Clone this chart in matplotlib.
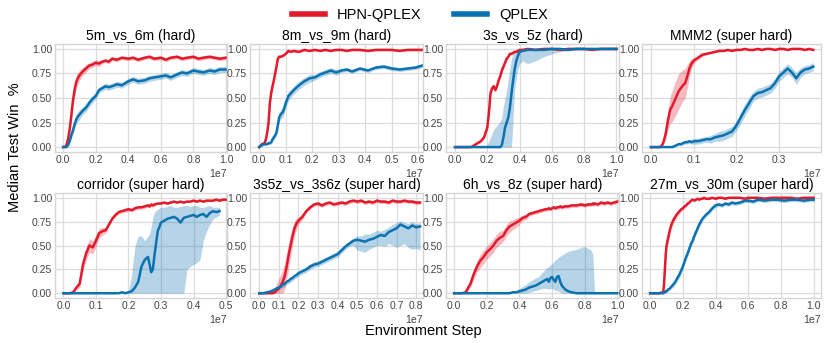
import numpy as np
import matplotlib.pyplot as plt
from matplotlib.lines import Line2D
from matplotlib.ticker import MultipleLocator, ScalarFormatter, FormatStrFormatter

plt.rcParams['font.family'] = ['Liberation Sans', 'DejaVu Sans']

HPN_COLOR = '#e31a2c'
QPLEX_COLOR = '#0b72b0'

# --------------------------------------------------
# data (x in units of 1e7 environment steps, values = median test win rate)
# --------------------------------------------------

# 5m_vs_6m
m5v6_x = [0, .01, .02, .03, .04, .05, .06, .07, .08, .09, .10, .12, .14, .16, .18, .20, .22, .24, .26, .28, .30,
          .33, .36, .40, .43, .46, .50, .53, .56, .60, .63, .66, .70, .73, .76, .80, .83, .86, .90, .93, .96, 1.0]
m5v6_hpn = [0, 0, .02, .08, .18, .32, .47, .58, .66, .70, .73, .77, .80, .83, .84, .86, .85, .87, .88, .87, .90,
            .89, .91, .90, .91, .89, .91, .92, .90, .91, .89, .91, .92, .90, .91, .92, .90, .91, .92, .91, .90, .91]
m5v6_hpn_err = [0, 0, .01, .03, .05, .06, .07, .07, .07, .06, .05, .04, .04, .03, .03, .03, .03, .02, .02, .02, .02,
                .02, .02, .02, .02, .02, .02, .02, .02, .02, .02, .02, .02, .02, .02, .02, .02, .02, .02, .02, .02, .02]
m5v6_qplex = [0, 0, 0, .02, .06, .12, .17, .23, .28, .31, .33, .37, .40, .45, .49, .52, .58, .60, .62, .61, .62,
              .64, .63, .67, .69, .67, .68, .70, .71, .72, .73, .71, .74, .76, .75, .78, .77, .76, .78, .77, .79, .79]
m5v6_qplex_err = [0, 0, 0, .01, .02, .03, .04, .05, .05, .05, .05, .04, .04, .04, .04, .03, .03, .03, .03, .03, .03,
                  .03, .03, .03, .03, .03, .03, .03, .03, .03, .03, .03, .03, .03, .03, .03, .03, .03, .03, .03, .03, .03]

# 8m_vs_9m
m8v9_x = [0, .01, .02, .025, .03, .035, .04, .045, .05, .055, .06, .065, .07, .075, .08, .09, .10, .11, .12, .13,
          .15, .17, .19, .21, .23, .25, .27, .29, .31, .33, .35, .38, .41, .44, .47, .50, .53, .56, .59, .615]
m8v9_hpn = [0, .03, .04, .08, .15, .25, .45, .55, .62, .68, .75, .82, .90, .92, .92, .93, .95, .98, .97, .98,
            .97, .99, .98, .99, .98, .99, .98, .99, .99, .98, .99, .99, .98, .99, .99, .99, .98, .99, .99, .99]
m8v9_hpn_err = [0, .01, .01, .02, .03, .03, .03, .03, .03, .03, .03, .03, .02, .02, .01, .01, .01, .01, .01, .01,
                .01, .01, .01, .01, .01, .01, .01, .01, .01, .01, .01, .01, .01, .01, .01, .01, .01, .01, .01, .01]
m8v9_qplex = [0, .02, .03, .03, .03, .04, .04, .05, .08, .10, .12, .15, .22, .30, .33, .36, .45, .52, .55, .58,
              .63, .67, .70, .71, .74, .76, .78, .76, .78, .79, .77, .80, .78, .81, .82, .80, .79, .80, .81, .83]
m8v9_qplex_err = [0, .01, .01, .01, .01, .01, .01, .02, .02, .03, .03, .03, .04, .04, .05, .05, .05, .05, .04, .04,
                  .04, .04, .04, .03, .03, .03, .03, .03, .02, .02, .02, .02, .02, .02, .02, .02, .02, .02, .02, .02]

# 3s_vs_5z
s3v5_x = [0, .05, .10, .12, .14, .16, .18, .20, .21, .22, .23, .24, .25, .26, .27, .28, .29, .30, .31, .32, .33,
          .34, .35, .36, .37, .38, .39, .40, .42, .45, .50, .55, .60, .65, .70, .75, .80, .85, .90, .95, 1.0]
s3v5_hpn = [0, 0, 0, .02, .04, .06, .10, .20, .35, .55, .60, .62, .58, .62, .68, .72, .78, .82, .86, .90, .92,
            .95, .95, .96, .97, .97, .98, .99, .99, 1.0, .99, 1.0, 1.0, .99, 1.0, 1.0, 1.0, .99, 1.0, 1.0, 1.0]
s3v5_hpn_err = [0, 0, 0, .01, .01, .01, .02, .02, .02, .02, .02, .02, .02, .02, .02, .02, .02, .02, .02, .02, .02,
                .01, .01, .01, .01, .01, .01, .01, .01, .01, .01, .01, .01, .01, .01, .01, .01, .01, .01, .01, .01]
s3v5_qplex = [0, 0, 0, 0, 0, 0, 0, 0, 0, 0, 0, 0, 0, 0, 0, 0, .02, .10, .20, .25, .30,
              .40, .55, .68, .80, .88, .93, .97, .98, .99, .99, .99, 1.0, 1.0, .99, 1.0, 1.0, 1.0, 1.0, 1.0, 1.0]
s3v5_qplex_lo = [0, 0, 0, 0, 0, 0, 0, 0, 0, 0, 0, 0, 0, 0, 0, 0, 0, 0, 0, 0, 0,
                 0, 0, .30, .60, .70, .80, .85, .88, .85, .88, .92, .95, .97, .98, .99, .99, .99, .99, .99, .99]
s3v5_qplex_hi = [0, 0, 0, 0, 0, 0, 0, .03, .06, .10, .14, .18, .20, .22, .24, .26, .30, .42, .50, .58, .70,
                 .80, .90, .95, .98, .99, 1.0, 1.0, 1.0, 1.0, 1.0, 1.0, 1.0, 1.0, 1.0, 1.0, 1.0, 1.0, 1.0, 1.0, 1.0]

# MMM2
mmm2_x = [0, .01, .02, .025, .03, .035, .04, .045, .05, .055, .06, .065, .07, .075, .08, .085, .09, .095, .10,
          .11, .12, .13, .14, .15, .16, .17, .18, .19, .20, .21, .22, .23, .24, .25, .26, .27, .28, .29, .30,
          .31, .32, .33, .34, .35, .36, .37, .38]
mmm2_hpn = [0, 0, 0, .01, .06, .15, .28, .38, .42, .47, .52, .57, .60, .63, .65, .72, .80, .85, .88,
            .91, .94, .95, .96, .97, .98, .98, .99, .98, .99, .99, 1.0, .99, .99, 1.0, .99, 1.0, 1.0, .99, 1.0,
            1.0, .99, 1.0, 1.0, 1.0, .99, 1.0, .99]
mmm2_hpn_err = [0, 0, 0, .01, .03, .06, .10, .14, .16, .17, .18, .18, .17, .16, .15, .12, .08, .05, .03,
                .02, .02, .01, .01, .01, .01, .01, .01, .01, .01, .01, .01, .01, .01, .01, .01, .01, .01, .01, .01,
                .01, .01, .01, .01, .01, .01, .01, .01]
mmm2_qplex = [0, 0, 0, 0, 0, 0, 0, 0, 0, .01, .02, .03, .03, .04, .05, .05, .06, .05, .06,
              .06, .07, .08, .08, .10, .11, .12, .14, .16, .22, .30, .38, .45, .52, .55, .56, .58, .60, .65, .72,
              .76, .80, .76, .70, .76, .79, .80, .82]
mmm2_qplex_err = [0, 0, 0, 0, 0, 0, 0, 0, 0, .01, .01, .01, .02, .02, .02, .02, .02, .02, .03,
                  .03, .03, .03, .04, .04, .05, .05, .05, .05, .05, .06, .06, .06, .05, .05, .05, .05, .05, .05, .05,
                  .05, .05, .05, .06, .05, .04, .04, .04]

# corridor
corr_x = [0, .01, .02, .03, .04, .05, .06, .07, .08, .09, .10, .11, .12, .13, .14, .15, .16, .17, .18, .19, .20,
          .21, .22, .23, .24, .25, .26, .265, .27, .275, .28, .29, .30, .31, .32, .33, .34, .35, .36, .37, .38,
          .39, .40, .41, .42, .43, .44, .45, .46, .47, .48, .49, .50]
corr_hpn = [0, 0, 0, .01, .06, .10, .30, .42, .50, .48, .55, .63, .65, .66, .72, .78, .82, .85, .86, .87, .88,
            .87, .89, .90, .90, .91, .92, .91, .93, .92, .93, .94, .94, .95, .94, .95, .96, .95, .96, .95, .96,
            .96, .97, .96, .97, .96, .97, .97, .97, .98, .97, .98, .98]
corr_hpn_err = [0, 0, 0, .01, .02, .04, .06, .07, .07, .07, .06, .05, .04, .03, .02, .02, .02, .02, .02, .02, .02,
                .02, .02, .02, .02, .02, .02, .02, .02, .02, .02, .01, .01, .01, .01, .01, .01, .01, .01, .01, .01,
                .01, .01, .01, .01, .01, .01, .01, .01, .01, .01, .01, .01]
corr_qplex = [0, 0, 0, 0, 0, 0, 0, 0, 0, 0, 0, 0, 0, 0, 0, 0, 0, 0, .01, 0, .01,
              .02, .06, .12, .28, .35, .38, .30, .22, .25, .40, .65, .74, .76, .78, .79, .80, .78, .74, .79, .80,
              .81, .82, .80, .82, .83, .80, .84, .86, .85, .86, np.nan, np.nan]
corr_qplex_lo = [0, 0, 0, 0, 0, 0, 0, 0, 0, 0, 0, 0, 0, 0, 0, 0, 0, 0, 0, 0, 0,
                 0, 0, 0, 0, 0, 0, 0, 0, 0, 0, 0, 0, 0, 0, 0, 0, 0, 0, 0, .25,
                 .28, .30, .32, .35, .55, .65, .72, .78, .80, .82, np.nan, np.nan]
corr_qplex_hi = [0, 0, 0, 0, 0, 0, 0, 0, 0, 0, 0, 0, 0, 0, 0, 0, 0, 0, .01, .01, .02,
                 .20, .50, .60, .60, .55, .60, .62, .70, .80, .85, .88, .90, .90, .91, .92, .90, .90, .91, .92, .92,
                 .91, .92, .92, .90, .90, .91, .92, .90, .90, .90, np.nan, np.nan]

# 3s5z_vs_3s6z
s3z5_x = [0, .02, .04, .06, .07, .08, .09, .10, .11, .12, .13, .14, .15, .16, .17, .18, .19, .20,
          .22, .24, .26, .28, .30, .32, .34, .36, .38, .40, .42, .44, .46, .48, .50, .52, .54, .56, .58, .60,
          .62, .64, .66, .68, .70, .72, .74, .76, .78, .80, .82]
s3z5_hpn = [0, 0, 0, 0, 0, .01, .03, .05, .08, .12, .18, .28, .40, .50, .60, .68, .73, .76,
            .80, .86, .90, .93, .94, .92, .94, .95, .93, .94, .95, .94, .96, .97, .96, .97, .95, .96, .95, .97,
            .96, .96, .95, .97, .96, .96, .97, .96, .96, .95, .95]
s3z5_hpn_err = [0, 0, 0, 0, .02, .05, .08, .10, .12, .13, .14, .14, .13, .12, .10, .08, .06, .04,
                .03, .02, .02, .02, .02, .02, .02, .02, .02, .02, .02, .02, .02, .02, .02, .02, .02, .02, .02, .02,
                .02, .02, .02, .02, .02, .02, .02, .02, .02, .02, .02]
s3z5_qplex = [0, 0, .01, .02, .03, .04, .05, .06, .07, .09, .10, .12, .13, .15, .16, .18, .19, .21,
              .23, .25, .28, .30, .31, .33, .35, .37, .39, .41, .45, .49, .52, .55, .56, .55, .54, .56, .57, .59,
              .61, .60, .64, .66, .68, .72, .70, .68, .71, .69, .70]
s3z5_qplex_lo = [0, 0, 0, 0, .01, .02, .03, .04, .05, .06, .07, .09, .10, .12, .13, .15, .16, .18,
                 .20, .22, .25, .27, .28, .30, .32, .34, .36, .38, .42, .46, .49, .50, .45, .44, .43, .46, .48, .50,
                 .50, .49, .52, .50, .48, .50, .52, .48, .46, .47, .45]
s3z5_qplex_hi = [0, .01, .02, .03, .05, .06, .07, .08, .09, .11, .12, .14, .15, .17, .18, .20, .21, .23,
                 .25, .28, .31, .33, .34, .36, .38, .40, .42, .44, .48, .52, .55, .58, .60, .60, .62, .62, .64, .66,
                 .65, .67, .69, .72, .74, .76, .74, .73, .75, .73, .74]

# 6h_vs_8z
h6v8_x = [0, .05, .07, .08, .10, .12, .14, .16, .18, .20, .22, .24, .26, .28, .30, .32, .34, .36, .38, .40,
          .42, .44, .46, .48, .50, .52, .54, .56, .57, .58, .59, .60, .61, .62, .63, .64, .65, .66, .68, .70,
          .72, .75, .78, .80, .82, .84, .85, .855, .86, .88, .90, .92, .94, .96, .98, 1.0]
h6v8_hpn = [0, 0, .01, .04, .10, .20, .28, .34, .38, .43, .46, .50, .55, .58, .60, .66, .70, .72, .74, .76,
            .79, .80, .83, .84, .85, .86, .87, .88, .88, .89, .88, .89, .90, .89, .90, .90, .91, .90, .91, .91,
            .92, .92, .93, .92, .93, .93, .94, .93, .94, .93, .95, .94, .95, .94, .95, .96]
h6v8_hpn_err = [0, 0, .01, .02, .04, .05, .06, .07, .07, .07, .07, .07, .07, .07, .06, .06, .06, .05, .05, .04,
                .03, .03, .02, .02, .02, .02, .02, .02, .02, .02, .02, .02, .02, .02, .02, .02, .02, .02, .02, .02,
                .02, .02, .02, .02, .02, .02, .02, .02, .02, .02, .02, .02, .02, .02, .02, .02]
h6v8_qplex = [0, 0, 0, 0, 0, 0, 0, 0, 0, 0, 0, 0, 0, 0, 0, 0, 0, .01, .01, .02,
              .03, .04, .06, .07, .08, .10, .12, .14, .15, .12, .16, .17, .14, .12, .17, .18, .12, .08, .04, .02,
              .01, 0, 0, 0, 0, 0, 0, 0, 0, 0, 0, 0, 0, 0, 0, 0]
h6v8_qplex_lo = [0, 0, 0, 0, 0, 0, 0, 0, 0, 0, 0, 0, 0, 0, 0, 0, 0, 0, 0, 0,
                 0, 0, .01, .02, .03, .04, .05, .05, .05, .04, .05, .05, .04, .03, .03, .02, .01, 0, 0, 0,
                 0, 0, 0, 0, 0, 0, 0, 0, 0, 0, 0, 0, 0, 0, 0, 0]
h6v8_qplex_hi = [0, 0, 0, 0, 0, 0, 0, 0, 0, 0, 0, 0, 0, 0, 0, 0, 0, .02, .03, .05,
                 .07, .09, .12, .14, .16, .18, .22, .25, .27, .28, .30, .31, .33, .35, .36, .38, .39, .40, .42, .44,
                 .45, .46, .48, .49, .47, .45, .40, .20, 0, 0, 0, 0, 0, 0, 0, 0]

# 27m_vs_30m
m27_x = [0, .05, .08, .085, .09, .095, .10, .11, .12, .13, .14, .15, .16, .17, .18, .19, .20, .21, .22, .23,
         .24, .25, .26, .27, .28, .29, .30, .31, .32, .33, .34, .36, .38, .40, .42, .44, .46, .48, .50, .52,
         .55, .58, .60, .63, .66, .70, .74, .78, .82, .86, .90, .94, .98, 1.0]
m27_hpn = [0, 0, .01, .10, .25, .40, .50, .58, .66, .72, .76, .79, .82, .84, .86, .88, .89, .91, .92, .94,
           .95, .97, .98, .97, .98, .99, .98, .99, .99, 1.0, .99, .99, 1.0, .99, 1.0, 1.0, .99, 1.0, 1.0, 1.0,
           1.0, .99, 1.0, 1.0, 1.0, .99, 1.0, 1.0, 1.0, 1.0, .99, 1.0, 1.0, 1.0]
m27_hpn_err = [0, 0, .01, .03, .04, .05, .05, .05, .05, .04, .04, .03, .03, .03, .02, .02, .02, .02, .02, .01,
               .01, .01, .01, .01, .01, .01, .01, .01, .01, .01, .01, .01, .01, .01, .01, .01, .01, .01, .01, .01,
               .01, .01, .01, .01, .01, .01, .01, .01, .01, .01, .01, .01, .01, .01]
m27_qplex = [0, 0, 0, .01, .01, .02, .02, .04, .05, .07, .09, .11, .14, .17, .20, .24, .28, .33, .38, .42,
             .47, .52, .55, .60, .64, .68, .72, .75, .78, .80, .82, .85, .89, .92, .93, .92, .94, .93, .95, .94,
             .95, .97, .97, .96, .98, .97, .98, .98, .97, .98, .98, .97, .98, .98]
m27_qplex_err = [0, 0, 0, .01, .01, .01, .01, .02, .02, .02, .03, .03, .03, .03, .03, .03, .03, .03, .03, .03,
                 .03, .03, .03, .03, .03, .03, .03, .03, .02, .02, .02, .02, .02, .02, .02, .02, .02, .02, .02, .02,
                 .02, .02, .02, .02, .02, .02, .02, .02, .02, .02, .02, .02, .02, .02]

titles = ['5m_vs_6m (hard)', '8m_vs_9m (hard)', '3s_vs_5z (hard)', 'MMM2 (super hard)',
          'corridor (super hard)', '3s5z_vs_3s6z (super hard)', '6h_vs_8z (super hard)', '27m_vs_30m (super hard)']


def sym(med, err):
    med = np.array(med, dtype=float)
    err = np.array(err, dtype=float)
    return med - err, med + err


panels = [
    (m5v6_x, m5v6_hpn, *sym(m5v6_hpn, m5v6_hpn_err), m5v6_qplex, *sym(m5v6_qplex, m5v6_qplex_err)),
    (m8v9_x, m8v9_hpn, *sym(m8v9_hpn, m8v9_hpn_err), m8v9_qplex, *sym(m8v9_qplex, m8v9_qplex_err)),
    (s3v5_x, s3v5_hpn, *sym(s3v5_hpn, s3v5_hpn_err), s3v5_qplex, s3v5_qplex_lo, s3v5_qplex_hi),
    (mmm2_x, mmm2_hpn, *sym(mmm2_hpn, mmm2_hpn_err), mmm2_qplex, *sym(mmm2_qplex, mmm2_qplex_err)),
    (corr_x, corr_hpn, *sym(corr_hpn, corr_hpn_err), corr_qplex, corr_qplex_lo, corr_qplex_hi),
    (s3z5_x, s3z5_hpn, *sym(s3z5_hpn, s3z5_hpn_err), s3z5_qplex, s3z5_qplex_lo, s3z5_qplex_hi),
    (h6v8_x, h6v8_hpn, *sym(h6v8_hpn, h6v8_hpn_err), h6v8_qplex, h6v8_qplex_lo, h6v8_qplex_hi),
    (m27_x, m27_hpn, *sym(m27_hpn, m27_hpn_err), m27_qplex, *sym(m27_qplex, m27_qplex_err)),
]

# layout (pixels of the 831x343 figure)
W, H = 831, 343
col_left = [55, 250, 446, 642]
col_right = [227, 423, 619, 821]
row_top = [44, 193]
row_bottom = [152, 298]
xlims = [(-0.05, 1.006), (-0.035, 0.618), (-0.056, 1.016), (-0.021, 0.398),
         (-0.026, 0.503), (-0.047, 0.835), (-0.05, 1.01), (-0.05, 1.045)]
xsteps = [0.2, 0.1, 0.2, 0.1, 0.1, 0.1, 0.2, 0.2]

fig = plt.figure(figsize=(W / 100, H / 100), dpi=100)

for i, (x, hpn, hpn_lo, hpn_hi, qp, qp_lo, qp_hi) in enumerate(panels):
    r, c = divmod(i, 4)
    ax = fig.add_axes([col_left[c] / W, 1 - row_bottom[r] / H,
                       (col_right[c] - col_left[c]) / W, (row_bottom[r] - row_top[r]) / H])
    steps = np.array(x) * 1e7

    ax.fill_between(steps, np.clip(hpn_lo, 0, 1), np.clip(hpn_hi, 0, 1),
                    color=HPN_COLOR, alpha=0.3, lw=0)
    ax.fill_between(steps, np.clip(np.array(qp_lo, float), 0, 1), np.clip(np.array(qp_hi, float), 0, 1),
                    color=QPLEX_COLOR, alpha=0.3, lw=0)
    ax.plot(steps, hpn, color=HPN_COLOR, lw=1.8)
    ax.plot(steps, qp, color=QPLEX_COLOR, lw=1.8)

    ax.set_xlim(xlims[i][0] * 1e7, xlims[i][1] * 1e7)
    ax.set_ylim(-0.05, 1.05)
    ax.set_yticks([0, 0.25, 0.5, 0.75, 1.0])
    ax.yaxis.set_major_formatter(FormatStrFormatter('%.2f'))
    ax.xaxis.set_major_locator(MultipleLocator(xsteps[i] * 1e7))
    fmt = ScalarFormatter()
    fmt.set_powerlimits((7, 7))
    ax.xaxis.set_major_formatter(fmt)
    ax.xaxis.get_offset_text().set_fontsize(7.5)
    ax.xaxis.get_offset_text().set_color('#444444')

    ax.grid(True, color='#dcdcdc', lw=0.9)
    ax.set_axisbelow(True)
    for sp in ax.spines.values():
        sp.set_color('#d5d5d5')
        sp.set_linewidth(1.0)
    ax.tick_params(length=0, pad=2, labelsize=7.5, labelcolor='#444444')
    ax.set_title(titles[i], fontsize=10, pad=3)

handles = [Line2D([], [], color=HPN_COLOR, lw=4), Line2D([], [], color=QPLEX_COLOR, lw=4)]
fig.legend(handles, ['HPN-QPLEX', 'QPLEX'], loc='upper center', bbox_to_anchor=(0.505, 1.015),
           ncol=2, frameon=False, fontsize=10.5, handlelength=2.3, handletextpad=0.8, columnspacing=2.2)

fig.text(0.018, 0.57, 'Median Test Win  %', rotation=90, ha='center', va='center', fontsize=10.5)
fig.text(0.51, 0.035, 'Environment Step', ha='center', va='center', fontsize=10.5)

fig.savefig('out.png', dpi=100)
